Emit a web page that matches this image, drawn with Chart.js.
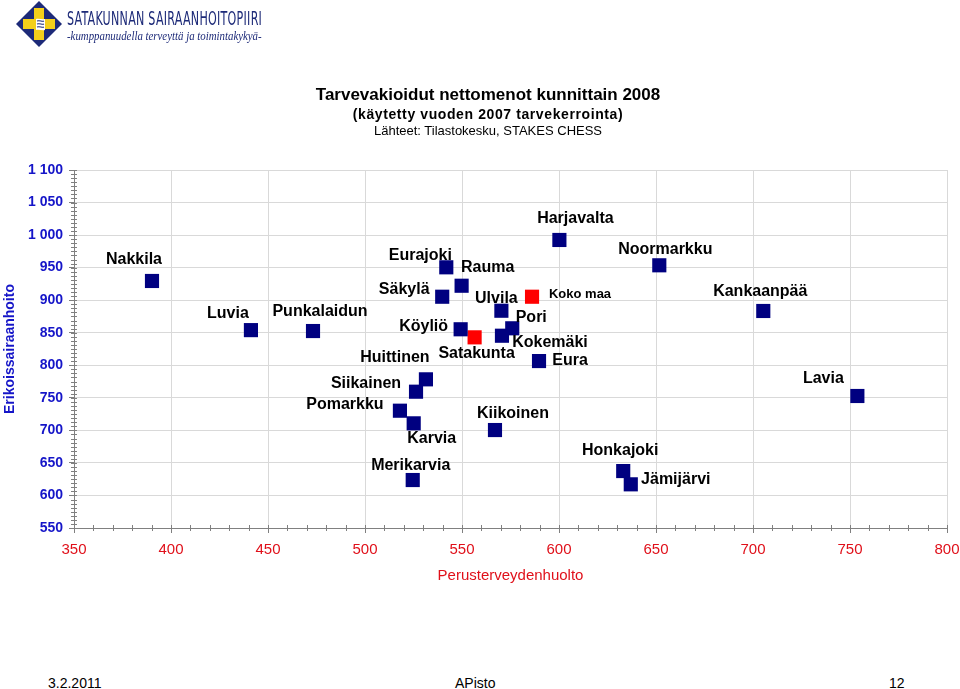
<!DOCTYPE html>
<html>
<head>
<meta charset="utf-8">
<script src="https://cdn.jsdelivr.net/npm/chart.js@4.4.1/dist/chart.umd.min.js"></script>
<style>
    html, body { margin: 0; padding: 0; background: #fff; }
    #page { position: relative; width: 960px; height: 689px; overflow: hidden; font-family: Arial, "Liberation Sans", sans-serif; }
    #chart { position: absolute; left: 0; top: 0; }
    .head { position: absolute; left: 488px; transform: translateX(-50%); white-space: nowrap; color: #000; }
    #logoText { position: absolute; left: 67px; top: 7px; color: #1d2a78; font-family: "Liberation Sans Narrow", "DejaVu Sans Condensed", Arial, sans-serif; font-size: 19px; letter-spacing: 0.4px; white-space: nowrap; transform-origin: left top; }
    #logoTag { position: absolute; left: 67px; top: 30px; color: #1d2a78; font-family: "Liberation Serif", "DejaVu Serif", serif; font-style: italic; font-size: 11.5px; white-space: nowrap; }
    .foot { position: absolute; top: 675px; font-size: 14px; color: #000; white-space: nowrap; }
</style>
</head>
<body>
<div id="page">
    <canvas id="chart" width="960" height="600"></canvas>
    <svg style="position:absolute;left:15px;top:0px" width="50" height="48" viewBox="0 0 50 48">
        <polygon points="24,1 47,24 24,47 1,24" fill="#1d2a78"/>
        <polygon points="19,8 29,8 29,19 40,19 40,29 29,29 29,40 19,40 19,29 8,29 8,19 19,19" fill="#f3cf1a"/>
        <path d="M21,19 C24,18 27,20 30,19 L30,30 C27,31 24,29 21,30 Z" fill="#fff"/>
        <path d="M22,21 C25,20 27,22 29,21 M22,24 C25,23 27,25 29,24 M22,27 C25,26 27,28 29,27" stroke="#1d2a78" stroke-width="1.2" fill="none"/>
    </svg>
    <div id="logoText">SATAKUNNAN SAIRAANHOITOPIIRI</div>
    <div id="logoTag">-kumppanuudella terveyttä ja toimintakykyä-</div>
    <div class="head" style="top:85px;font-size:17px;font-weight:bold">Tarvevakioidut nettomenot kunnittain 2008</div>
    <div class="head" style="top:106px;font-size:14px;font-weight:bold;letter-spacing:0.6px">(käytetty vuoden 2007 tarvekerrointa)</div>
    <div class="head" style="top:123px;font-size:13px">Lähteet: Tilastokesku, STAKES CHESS</div>
    <div class="foot" style="left:48px">3.2.2011</div>
    <div class="foot" style="left:455px">APisto</div>
    <div class="foot" style="left:889px">12</div>
</div>
<script>
// municipalities
const kunnat = ['Nakkila', 'Luvia', 'Punkalaidun', 'Eurajoki', 'Rauma', 'Säkylä', 'Ulvila', 'Pori',
    'Köyliö', 'Kokemäki', 'Eura', 'Harjavalta', 'Noormarkku', 'Kankaanpää', 'Lavia', 'Huittinen',
    'Siikainen', 'Pomarkku', 'Karvia', 'Kiikoinen', 'Merikarvia', 'Honkajoki', 'Jämijärvi']

// perusterveydenhuolto (x)
const pthValues = [390.2, 441.2, 473.2, 541.9, 549.8, 539.8, 570.3, 575.9,
    549.3, 570.6, 589.7, 600.2, 651.7, 705.3, 753.8, 531.4,
    526.3, 518, 525.1, 567, 524.6, 633.1, 637]

// erikoissairaanhoito (y)
const eshValues = [929.5, 854, 852.6, 950.5, 922.2, 905.3, 883.8, 856.8,
    855.3, 845.4, 806.5, 992.5, 953.6, 883.4, 752.8, 778.4,
    759.4, 730.2, 710.8, 700.5, 623.7, 637.5, 617.1]

// comparison points
const vertailu = ['Koko maa', 'Satakunta']
const vertailuPth = [586.1, 556.5]
const vertailuEsh = [905.3, 842.9]

// axis ticks
const xTicks = [350, 400, 450, 500, 550, 600, 650, 700, 750, 800]
const yTicks = [550, 600, 650, 700, 750, 800, 850, 900, 950, 1000, 1050, 1100]

// label placement relative to the marker (dx, dy)
const labelOffsets = {
    'Nakkila': [-18, -21], 'Luvia': [-23, -17], 'Punkalaidun': [7, -19], 'Eurajoki': [-26, -12],
    'Rauma': [26, -18], 'Säkylä': [-38, -7], 'Ulvila': [-5, -12], 'Pori': [19, -11],
    'Köyliö': [-37, -3], 'Kokemäki': [48, 7], 'Eura': [31, 0], 'Harjavalta': [16, -21],
    'Noormarkku': [6, -16], 'Kankaanpää': [-3, -19], 'Lavia': [-34, -17], 'Huittinen': [-31, -22],
    'Siikainen': [-50, -8], 'Pomarkku': [-55, -6], 'Karvia': [18, 15], 'Kiikoinen': [18, -16],
    'Merikarvia': [-2, -14], 'Honkajoki': [-3, -20], 'Jämijärvi': [45, -5],
    'Koko maa': [48, -2], 'Satakunta': [2, 16]
}

const blue = '#1515c8'
const red = '#e0101a'

// function to format thousands with a space
function formatTick(value) {
    return String(value).replace(/\B(?=(\d{3})+$)/, ' ')
}

// plugin to draw the point names
const pointLabels = {
    id: 'pointLabels',
    afterDatasetsDraw(chart) {
        const ctx = chart.ctx
        ctx.save()
        ctx.textAlign = 'center'
        ctx.textBaseline = 'middle'
        ctx.fillStyle = '#000'
        chart.data.datasets.forEach((ds, i) => {
            const meta = chart.getDatasetMeta(i)
            meta.data.forEach((el, j) => {
                const name = ds.names[j]
                const off = labelOffsets[name] || [0, -18]
                ctx.font = name === 'Koko maa' ? 'bold 13px Arial' : 'bold 16px Arial'
                ctx.fillText(name, el.x + off[0], el.y + off[1])
            })
        })
        ctx.restore()
    }
}

// plugin to draw minor tick marks on the axes
const minorTicks = {
    id: 'minorTicks',
    afterDraw(chart) {
        const ctx = chart.ctx
        const xs = chart.scales.x
        const ys = chart.scales.y
        const area = chart.chartArea
        ctx.save()
        ctx.strokeStyle = '#808080'
        ctx.lineWidth = 1
        ctx.beginPath()
        for (let v = xs.min; v <= xs.max; v += 10) {
            const px = Math.round(xs.getPixelForValue(v)) + 0.5
            ctx.moveTo(px, area.bottom - 3)
            ctx.lineTo(px, area.bottom + 3)
        }
        for (let v = ys.min; v <= ys.max; v += 6.25) {
            const py = Math.round(ys.getPixelForValue(v)) + 0.5
            ctx.moveTo(area.left - 3, py)
            ctx.lineTo(area.left + 3, py)
        }
        ctx.stroke()
        ctx.restore()
    }
}

// function to create the scatter chart
function createChart() {
    const ctx = document.getElementById('chart').getContext('2d')

    new Chart(ctx, {
        type: 'scatter',
        data: {
            datasets: [{
                label: 'Kunnat',
                names: kunnat,
                data: kunnat.map((k, i) => ({ x: pthValues[i], y: eshValues[i] })),
                pointStyle: 'rect',
                pointRadius: 10,
                pointHoverRadius: 10,
                backgroundColor: '#000080',
                borderColor: '#000080',
                borderWidth: 0
            }, {
                label: 'Vertailu',
                names: vertailu,
                data: vertailu.map((k, i) => ({ x: vertailuPth[i], y: vertailuEsh[i] })),
                pointStyle: 'rect',
                pointRadius: 10,
                pointHoverRadius: 10,
                backgroundColor: '#ff0000',
                borderColor: '#ff0000',
                borderWidth: 0
            }]
        },
        options: {
            responsive: false,
            animation: false,
            layout: {
                padding: { top: 170, right: 13, left: 0, bottom: 0 }
            },
            plugins: {
                legend: { display: false },
                tooltip: { enabled: false }
            },
            scales: {
                x: {
                    type: 'linear',
                    min: 350,
                    max: 800,
                    afterFit: scale => {
                        scale.height = 72
                        scale.paddingLeft = 0
                        scale.paddingRight = 0
                    },
                    afterBuildTicks: scale => { scale.ticks = xTicks.map(v => ({ value: v })) },
                    ticks: {
                        color: red,
                        font: { family: 'Arial', size: 15 },
                        padding: 8,
                        maxRotation: 0
                    },
                    grid: { color: '#d9d9d9', tickColor: '#808080', tickLength: 5 },
                    border: { color: '#808080' },
                    title: {
                        display: true,
                        text: 'Perusterveydenhuolto',
                        color: red,
                        font: { family: 'Arial', size: 15 },
                        padding: { top: 0, bottom: 15 }
                    }
                },
                y: {
                    type: 'linear',
                    min: 550,
                    max: 1100,
                    afterFit: scale => {
                        scale.width = 74
                        scale.paddingTop = 0
                        scale.paddingBottom = 0
                    },
                    afterBuildTicks: scale => { scale.ticks = yTicks.map(v => ({ value: v })) },
                    ticks: {
                        color: blue,
                        font: { family: 'Arial', size: 14, weight: 'bold' },
                        padding: 6,
                        callback: formatTick
                    },
                    grid: { color: '#d9d9d9', tickColor: '#808080', tickLength: 5 },
                    border: { color: '#808080' },
                    title: {
                        display: true,
                        text: 'Erikoissairaanhoito',
                        color: blue,
                        font: { family: 'Arial', size: 14, weight: 'bold' },
                        padding: { top: 2, bottom: 0 }
                    }
                }
            }
        },
        plugins: [minorTicks, pointLabels]
    })
}

// execute when dom is loaded
document.addEventListener('DOMContentLoaded', function() {
    createChart()
    // squeeze the logo text to its width
    const logo = document.getElementById('logoText')
    logo.style.transform = 'scaleX(' + (195 / logo.offsetWidth) + ')'
    const tag = document.getElementById('logoTag')
    tag.style.transformOrigin = 'left top'
    tag.style.transform = 'scaleX(' + (195 / tag.offsetWidth) + ')'
})
</script>
</body>
</html>
